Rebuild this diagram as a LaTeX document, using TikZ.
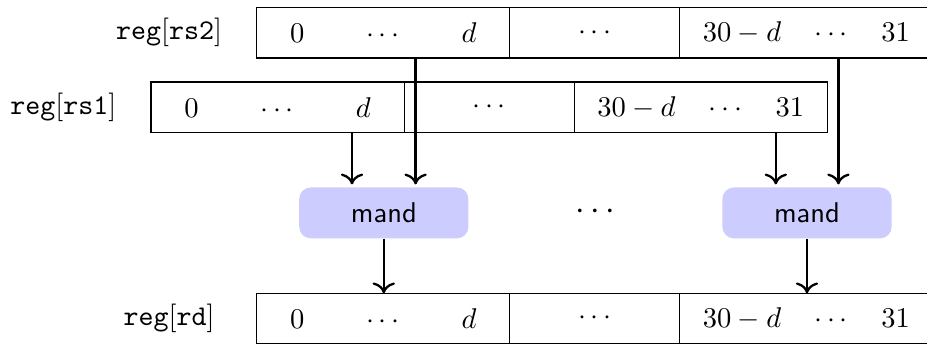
\documentclass[tikz,border=0pt]{standalone}
\usetikzlibrary{positioning, calc, arrows.meta}

\begin{document}
\begin{tikzpicture}[x=0.35pt, y=-0.35pt, node distance=0pt]
        \tikzstyle{wide} = [rectangle, minimum width=88.6pt, minimum height=17.7pt, inner sep=0pt, outer sep=0pt, draw=black]
        \tikzstyle{narrow} = [rectangle, minimum width=59.5pt, minimum height=17.7pt, inner sep=0pt, outer sep=0pt, draw=black]
        \tikzstyle{regname} = [minimum width=60.9pt, inner sep=0pt]
        \tikzstyle{mandbox} = [rectangle, rounded corners, minimum width=59.2pt, minimum height=17.8pt, font=\sffamily, fill=blue!20]
        \tikzstyle{arrow} = [thick, -{Computer Modern Rightarrow[length=3.8pt, width=7.8pt]}]

        \useasboundingbox (0,0) rectangle (927,345);

        % registers
        \node (rs2a) [wide, anchor=north west] at (256.7,7.5) {$0 \qquad \cdots \qquad d$};
        \node (rs2b) [narrow, right=of rs2a] {$\cdots$};
        \node (rs2c) [wide, right=of rs2b] {$30-d \quad \cdots \quad 31$};
        \node (l2) [regname, left=of rs2a] {$\mathtt{reg}[\mathtt{rs2}]$};

        \node (rs1a) [wide, anchor=north west] at (151,82) {$0 \qquad \cdots \qquad d$};
        \node (rs1b) [narrow, right=of rs1a] {$\cdots$};
        \node (rs1c) [wide, right=of rs1b] {$30-d \quad \cdots \quad 31$};
        \node (l1) [regname, left=of rs1a] {$\mathtt{reg}[\mathtt{rs1}]$};

        \node (rda) [wide, anchor=north west] at (256.7,293.3) {$0 \qquad \cdots \qquad d$};
        \node (rdb) [narrow, right=of rda] {$\cdots$};
        \node (rdc) [wide, right=of rdb] {$30-d \quad \cdots \quad 31$};
        \node (ld) [regname, left=of rda] {$\mathtt{reg}[\mathtt{rd}]$};

        % gates
        \node (m1) [mandbox] at (383.8,212.9) {mand};
        \node (m2) [mandbox] at (807,212.9) {mand};
        \node (mdots) at (595,212) {\large $\cdots$};

        \coordinate (m1l) at ($(m1.north)+(-31.8,-2.5)$);
        \coordinate (m1r) at ($(m1.north)+(31.8,-2.5)$);
        \coordinate (m2l) at ($(m2.north)+(-31.2,-2.5)$);
        \coordinate (m2r) at ($(m2.north)+(31.4,-2.5)$);

        \draw [arrow] (rs1a.south -| m1l) -- (m1l);
        \draw [arrow] (rs2a.south -| m1r) -- (m1r);
        \draw [arrow] (rs1c.south -| m2l) -- (m2l);
        \draw [arrow] (rs2c.south -| m2r) -- (m2r);
        \draw [arrow] (m1) -- (rda.north -| m1);
        \draw [arrow] (m2) -- (rdc.north -| m2);
    \end{tikzpicture}
\end{document}
